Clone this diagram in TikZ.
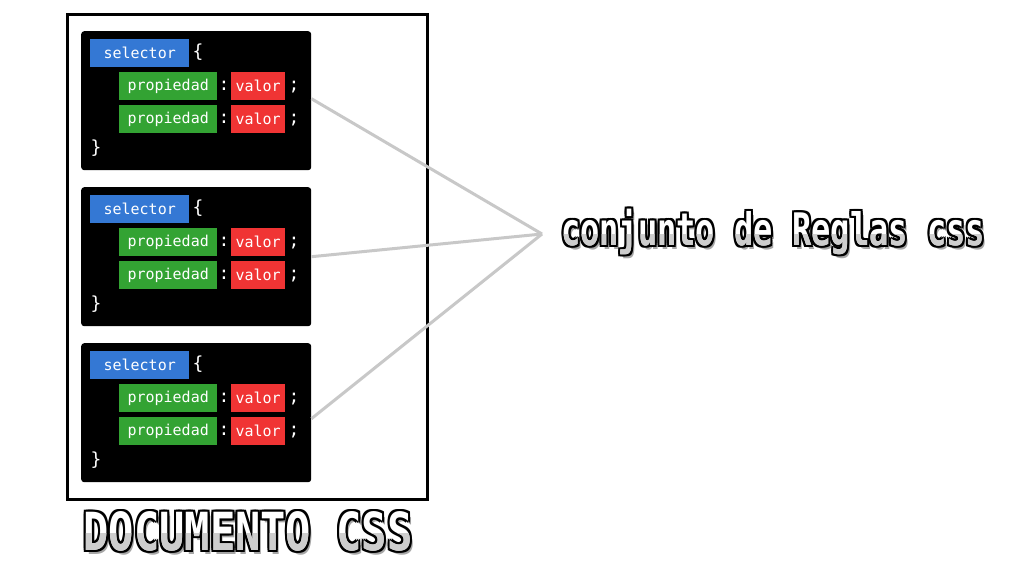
\documentclass[tikz,border=0pt]{standalone}
\usepackage{fontspec}
\setmonofont{DejaVu Sans Mono}
\newfontfamily\pixfont{DejaVu Sans Mono}
\usepackage{tikz}
\usetikzlibrary{positioning,calc}

\definecolor{selblue}{RGB}{52,120,212}
\definecolor{propgreen}{RGB}{51,163,51}
\definecolor{valred}{RGB}{240,52,52}
\definecolor{linkgray}{RGB}{200,200,200}
\definecolor{pixgray}{RGB}{205,205,205}

\newcommand{\codefont}{\ttfamily\fontsize{15}{17}\selectfont}
\newcommand{\markfont}{\ttfamily\fontsize{18}{20}\selectfont}
\newcommand{\rulefont}{\pixfont\bfseries\fontsize{32}{34}\selectfont}
\newcommand{\docfont}{\pixfont\bfseries\fontsize{42}{44}\selectfont}

\tikzset{
  codeblock/.style={fill=black, rounded corners=3pt, minimum width=230pt,
    minimum height=139pt, anchor=north west, inner sep=0pt},
  tag/.style={anchor=north west, inner sep=0pt, text=white, font=\codefont,
    minimum height=28pt},
  selbox/.style={tag, fill=selblue, minimum width=99pt},
  propbox/.style={tag, fill=propgreen, minimum width=98pt},
  valbox/.style={tag, fill=valred, minimum width=54pt},
  punct/.style={text=white, font=\markfont, inner sep=0pt},
  link/.style={draw=linkgray, line width=3pt},
  docframe/.style={draw=black, line width=3pt, minimum width=360pt,
    minimum height=485pt, inner sep=0pt},
  pixshadow/.style={inner sep=0pt, text=black, opacity=0.35},
  pixedge/.style={inner sep=0pt, text=black},
  pixtop/.style={inner sep=0pt, text=white},
  pixbottom/.style={inner sep=0pt, text=pixgray}
}

% blocky title: shadow, black outline, white top, grey bottom
\newcommand{\pixlabel}[4]{%
  \node[pixshadow, font=#3] at ($(#2)+(3,4)$) {#4};
  \foreach \dx/\dy in {-2/-2,0/-2,2/-2,-2/0,2/0,-2/2,0/2,2/2}
    \node[pixedge, font=#3] at ($(#2)+(\dx,\dy)$) {#4};
  \node[pixtop, font=#3] (#1) at (#2) {#4};
  \begin{scope}
    \clip ($(#1.west)+(-3,2)$) rectangle ($(#1.south east)+(3,3)$);
    \node[pixbottom, font=#3] at (#2) {#4};
  \end{scope}
}

\begin{document}
\begin{tikzpicture}[x=1pt, y=-1pt]
  \fill[white] (0,0) rectangle (1017,565);
  \useasboundingbox (0,0) rectangle (1017,565);

  % CSS document frame
  \node[docframe] (doc) at (247,256.5) {};

  % rule sets
  \foreach \i/\y in {1/31,2/187,3/343}{
    \node[codeblock] (blk\i) at (81,\y) {};
    \node[selbox] (sel\i) at (90,\y+8) {selector};
    \node[punct] (open\i) at (198,\y+21) {\{};
    \node[propbox] (propa\i) at (119,\y+41) {propiedad};
    \node[punct] (cola\i) at (224,\y+55) {:};
    \node[valbox] (vala\i) at (231,\y+41) {valor};
    \node[punct] (semia\i) at (294,\y+56) {;};
    \node[propbox] (propb\i) at (119,\y+74) {propiedad};
    \node[punct] (colb\i) at (224,\y+88) {:};
    \node[valbox] (valb\i) at (231,\y+74) {valor};
    \node[punct] (semib\i) at (294,\y+89) {;};
    \node[punct] (close\i) at (96,\y+117) {\}};
  }

  % connectors
  \coordinate (apex) at (542,234);
  \draw[link] ($(blk1.east)+(0,-2)$) -- (apex);
  \draw[link] (blk2.east) -- (apex);
  \draw[link] ($(blk3.east)+(0,6)$) -- (apex);

  % labels
  \pixlabel{rules}{773,232}{\rulefont}{\scalebox{1}[1.4]{conjunto de Reglas css}}
  \pixlabel{doctitle}{248,531}{\docfont}{\scalebox{1}[1.25]{DOCUMENTO CSS}}
\end{tikzpicture}
\end{document}
